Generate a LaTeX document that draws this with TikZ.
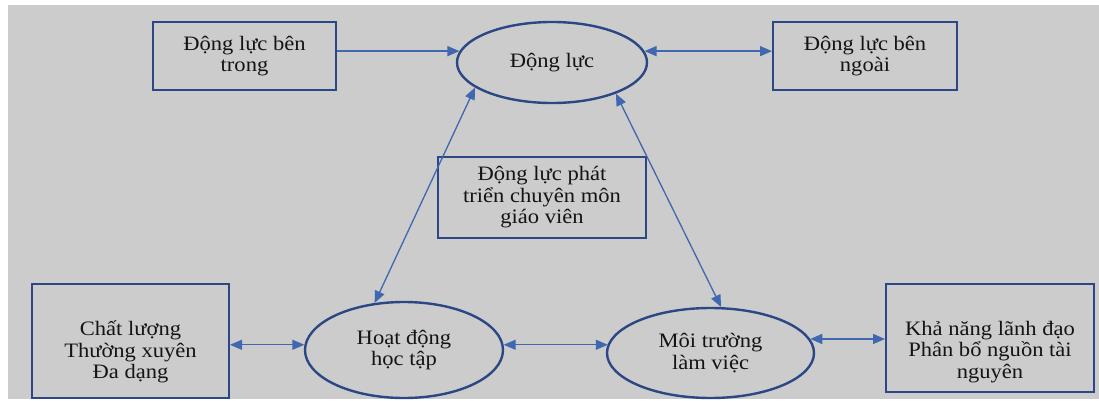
\documentclass[tikz,border=0pt]{standalone}
\usepackage{fontspec}
\setmainfont{Liberation Serif}[FakeStretch=1.1]
\usetikzlibrary{arrows.meta,shapes.geometric}
\definecolor{bggray}{HTML}{CCCCCC}
\definecolor{navy}{HTML}{2C4785}
\definecolor{lineblue}{HTML}{4068B0}
\definecolor{txt}{HTML}{141414}
\begin{document}
\begin{tikzpicture}[x=1pt,y=-1pt,
  every node/.style={font=\fontsize{20.5}{21.5}\selectfont, text=txt, inner sep=0pt, align=center},
  boxnode/.style={draw=navy, line width=2pt, rectangle},
  ellnode/.style={draw=navy, line width=2.4pt, ellipse},
  arr/.style={draw=lineblue, line width=1.3pt, -{Triangle[length=12pt,width=10pt]}},
  darr/.style={draw=lineblue, line width=1.3pt, {Triangle[length=12pt,width=10pt]}-{Triangle[length=12pt,width=10pt]}},
]
\useasboundingbox (0,0) rectangle (1099,401);
\fill[white] (0,0) rectangle (1099,401);
\fill[bggray] (8,5) rectangle (1099,399);

\node[boxnode, minimum width=183pt, minimum height=68pt] (bt) at (244.5,56) {Động lực bên\\trong};
\node[ellnode, minimum width=190pt, minimum height=81pt] (dl) at (552,62.5) {Động lực};
\node[boxnode, minimum width=184pt, minimum height=68pt] (bn) at (865,56) {Động lực bên\\ngoài};
\node[boxnode, minimum width=208pt, minimum height=81pt] (gv) at (542,197.5) {Động lực phát\\triển chuyên môn\\giáo viên};

\node[boxnode, minimum width=197pt, minimum height=114pt] (cl) at (130.5,341) {};
\node (cltext) at (130.5,352) {Chất lượng\\Thường xuyên\\Đa dạng};
\node[ellnode, minimum width=198pt, minimum height=96pt] (hd) at (404,350) {Hoạt động\\học tập};
\node[ellnode, minimum width=207pt, minimum height=90pt] (mt) at (710.5,353) {Môi trường\\làm việc};
\node[boxnode, minimum width=208pt, minimum height=108pt] (kn) at (990,338) {};
\node (kntext) at (990,352) {Khả năng lãnh đạo\\Phân bổ nguồn tài\\nguyên};

\draw[arr] (bt.east |- dl.173) -- (dl.173);
\draw[darr] (dl.7) -- (dl.7 -| bn.west);
\draw[darr] (hd.122) -- (dl.198);
\draw[darr] (dl.334) -- (mt.77);
\draw[darr] (hd.177 -| cl.east) -- (hd.177);
\draw[darr] (hd.3) -- (hd.3 -| mt.175);
\draw[darr] (mt.8) -- (mt.8 -| kn.west);
\end{tikzpicture}
\end{document}
